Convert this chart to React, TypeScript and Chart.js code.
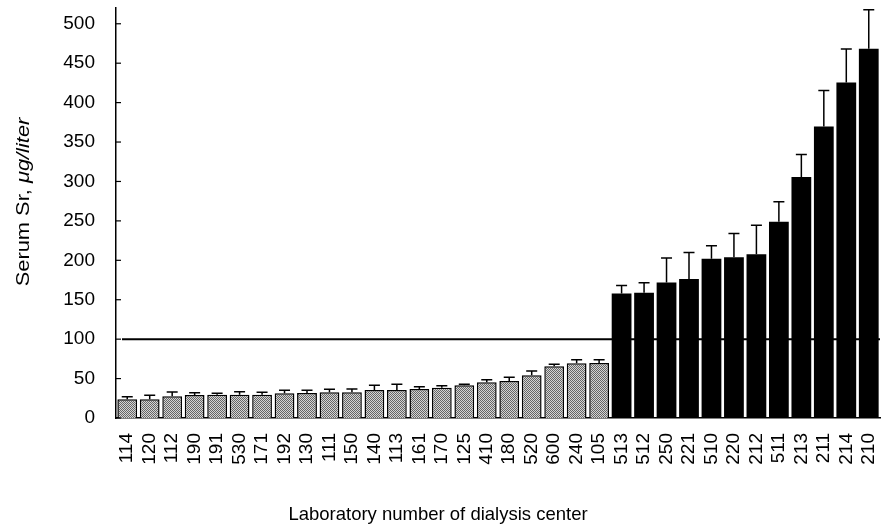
import React, { useEffect, useRef } from 'react';
import { Chart, registerables } from 'chart.js';

Chart.register(...registerables);

const labs = ['114', '120', '112', '190', '191', '530', '171', '192', '130', '111', '150', '140', '113', '161', '170', '125', '410', '180', '520', '600', '240', '105',
  '513', '512', '250', '221', '510', '220', '212', '511', '213', '211', '214', '210'];
const means = [23.7, 23.7, 27.5, 29.2, 29.6, 29.6, 29.6, 31.3, 31.7, 32.6, 32.6, 35.5, 35.5, 36.8, 38.5, 41.5, 45.3, 47, 54.2, 65.6, 69.4, 69.8,
  157.8, 159, 172, 176.4, 202, 203.8, 207.6, 249, 305.7, 369.8, 425.6, 468.3];
const sdUp = [3.3, 5, 5.5, 2.8, 1.7, 3.8, 3, 3.9, 3.5, 3.8, 4.2, 6, 7.3, 2.9, 2.5, 1.3, 3.3, 4.6, 5.4, 2.5, 4.6, 4.2,
  10.1, 12.6, 31, 33.6, 16.6, 30.2, 36.8, 25.4, 28.6, 45.7, 42.4, 49.4];
const yTicks = [0, 50, 100, 150, 200, 250, 300, 350, 400, 450, 500];
const refLevel = 100;
const lowCount = 22;
const yTitleMain = 'Serum Sr, ';
const yTitleUnit = 'μg/liter';
const xTitle = 'Laboratory number of dialysis center';

const FONT = '"Liberation Sans", Arial, Helvetica, sans-serif';

export default function App() {
  const ref = useRef<HTMLCanvasElement | null>(null);

  useEffect(() => {
    const canvas = ref.current!;
    const ctx = canvas.getContext('2d')!;
    const pc = document.createElement('canvas');
    pc.width = 2; pc.height = 2;
    const pg = pc.getContext('2d')!;
    pg.fillStyle = '#d4d4d4'; pg.fillRect(0, 0, 2, 2);
    pg.fillStyle = '#666666'; pg.fillRect(0, 0, 1, 1); pg.fillRect(1, 1, 1, 1);
    const pattern = ctx.createPattern(pc, 'repeat')!;

    const overlay = {
      id: 'overlay',
      afterDatasetsDraw(chart: any) {
        const c = chart.ctx;
        const y = chart.scales.y;
        const meta = chart.getDatasetMeta(0);
        const area = chart.chartArea;
        c.save();
        c.strokeStyle = '#000';
        c.lineWidth = 1.5;
        meta.data.forEach((bar: any, i: number) => {
          const yb = y.getPixelForValue(means[i]);
          const yt = y.getPixelForValue(means[i] + sdUp[i]);
          c.beginPath();
          c.moveTo(bar.x, yb);
          c.lineTo(bar.x, yt);
          c.moveTo(bar.x - 5.5, yt);
          c.lineTo(bar.x + 5.5, yt);
          c.stroke();
        });
        const yr = y.getPixelForValue(refLevel);
        c.lineWidth = 2;
        c.beginPath();
        c.moveTo(area.left + 6, yr);
        c.lineTo(area.right, yr);
        c.stroke();
        c.restore();
      },
      afterDraw(chart: any) {
        const c = chart.ctx;
        const y = chart.scales.y;
        const area = chart.chartArea;
        c.save();
        c.strokeStyle = '#000';
        c.lineWidth = 1.2;
        y.ticks.forEach((t: any) => {
          const py = y.getPixelForValue(t.value);
          c.beginPath();
          c.moveTo(area.left, py);
          c.lineTo(area.left + 5, py);
          c.stroke();
        });
        c.fillStyle = '#000';
        // x title
        c.font = '18.5px ' + FONT;
        c.textAlign = 'center';
        c.textBaseline = 'middle';
        c.fillText(xTitle, 438, 515);
        // y title with italic unit
        c.textAlign = 'left';
        const f1 = '19px ' + FONT;
        const f2 = 'italic 19px ' + FONT;
        c.font = f1;
        const w1 = c.measureText(yTitleMain).width;
        c.font = f2;
        const w2 = c.measureText(yTitleUnit).width;
        const cy = 202;
        c.translate(24, cy);
        c.rotate(-Math.PI / 2);
        c.scale(1.15, 1);
        const start = -(w1 + w2) / 2;
        c.font = f1;
        c.fillText(yTitleMain, start, 0);
        c.font = f2;
        c.fillText(yTitleUnit, start + w1, 0);
        c.restore();
      },
    };

    const chart = new Chart(ctx, {
      type: 'bar',
      data: {
        labels: labs,
        datasets: [{
          data: means,
          backgroundColor: means.map((_, i) => (i < lowCount ? pattern : '#000')),
          borderColor: '#000',
          borderWidth: means.map((_, i) => (i < lowCount ? 1.5 : 0)),
          barPercentage: 0.88,
          categoryPercentage: 1,
        }],
      },
      options: {
        animation: false,
        responsive: false,
        devicePixelRatio: 1,
        layout: { padding: { top: 8, right: 2, left: 0, bottom: 0 } },
        plugins: { legend: { display: false }, tooltip: { enabled: false } },
        scales: {
          x: {
            type: 'category',
            offset: true,
            grid: { display: false },
            border: { display: true, color: '#000', width: 1.5 },
            ticks: {
              autoSkip: false, maxRotation: 90, minRotation: 90,
              color: '#000', padding: 7,
              font: { family: FONT, size: 19 },
            },
            title: { display: false },
            afterFit: (s: any) => { s.height = 110; s.paddingLeft = 0; s.paddingRight = 0; },
          },
          y: {
            min: 0, max: 520,
            afterBuildTicks: (s: any) => { s.ticks = yTicks.map((v) => ({ value: v })); },
            grid: { display: false },
            border: { display: true, color: '#000', width: 1.5 },
            ticks: { color: '#000', padding: 13, font: { family: FONT, size: 19 } },
            afterFit: (s: any) => { s.width = 116; s.paddingTop = 0; s.paddingBottom = 0; },
          },
        },
      },
      plugins: [overlay],
    });
    return () => chart.destroy();
  }, []);

  return (
    <div style={{ position: 'fixed', left: 0, top: 0, width: 882, height: 528, background: '#fff' }}>
      <canvas ref={ref} width={882} height={528} style={{ display: 'block' }} />
    </div>
  );
}
